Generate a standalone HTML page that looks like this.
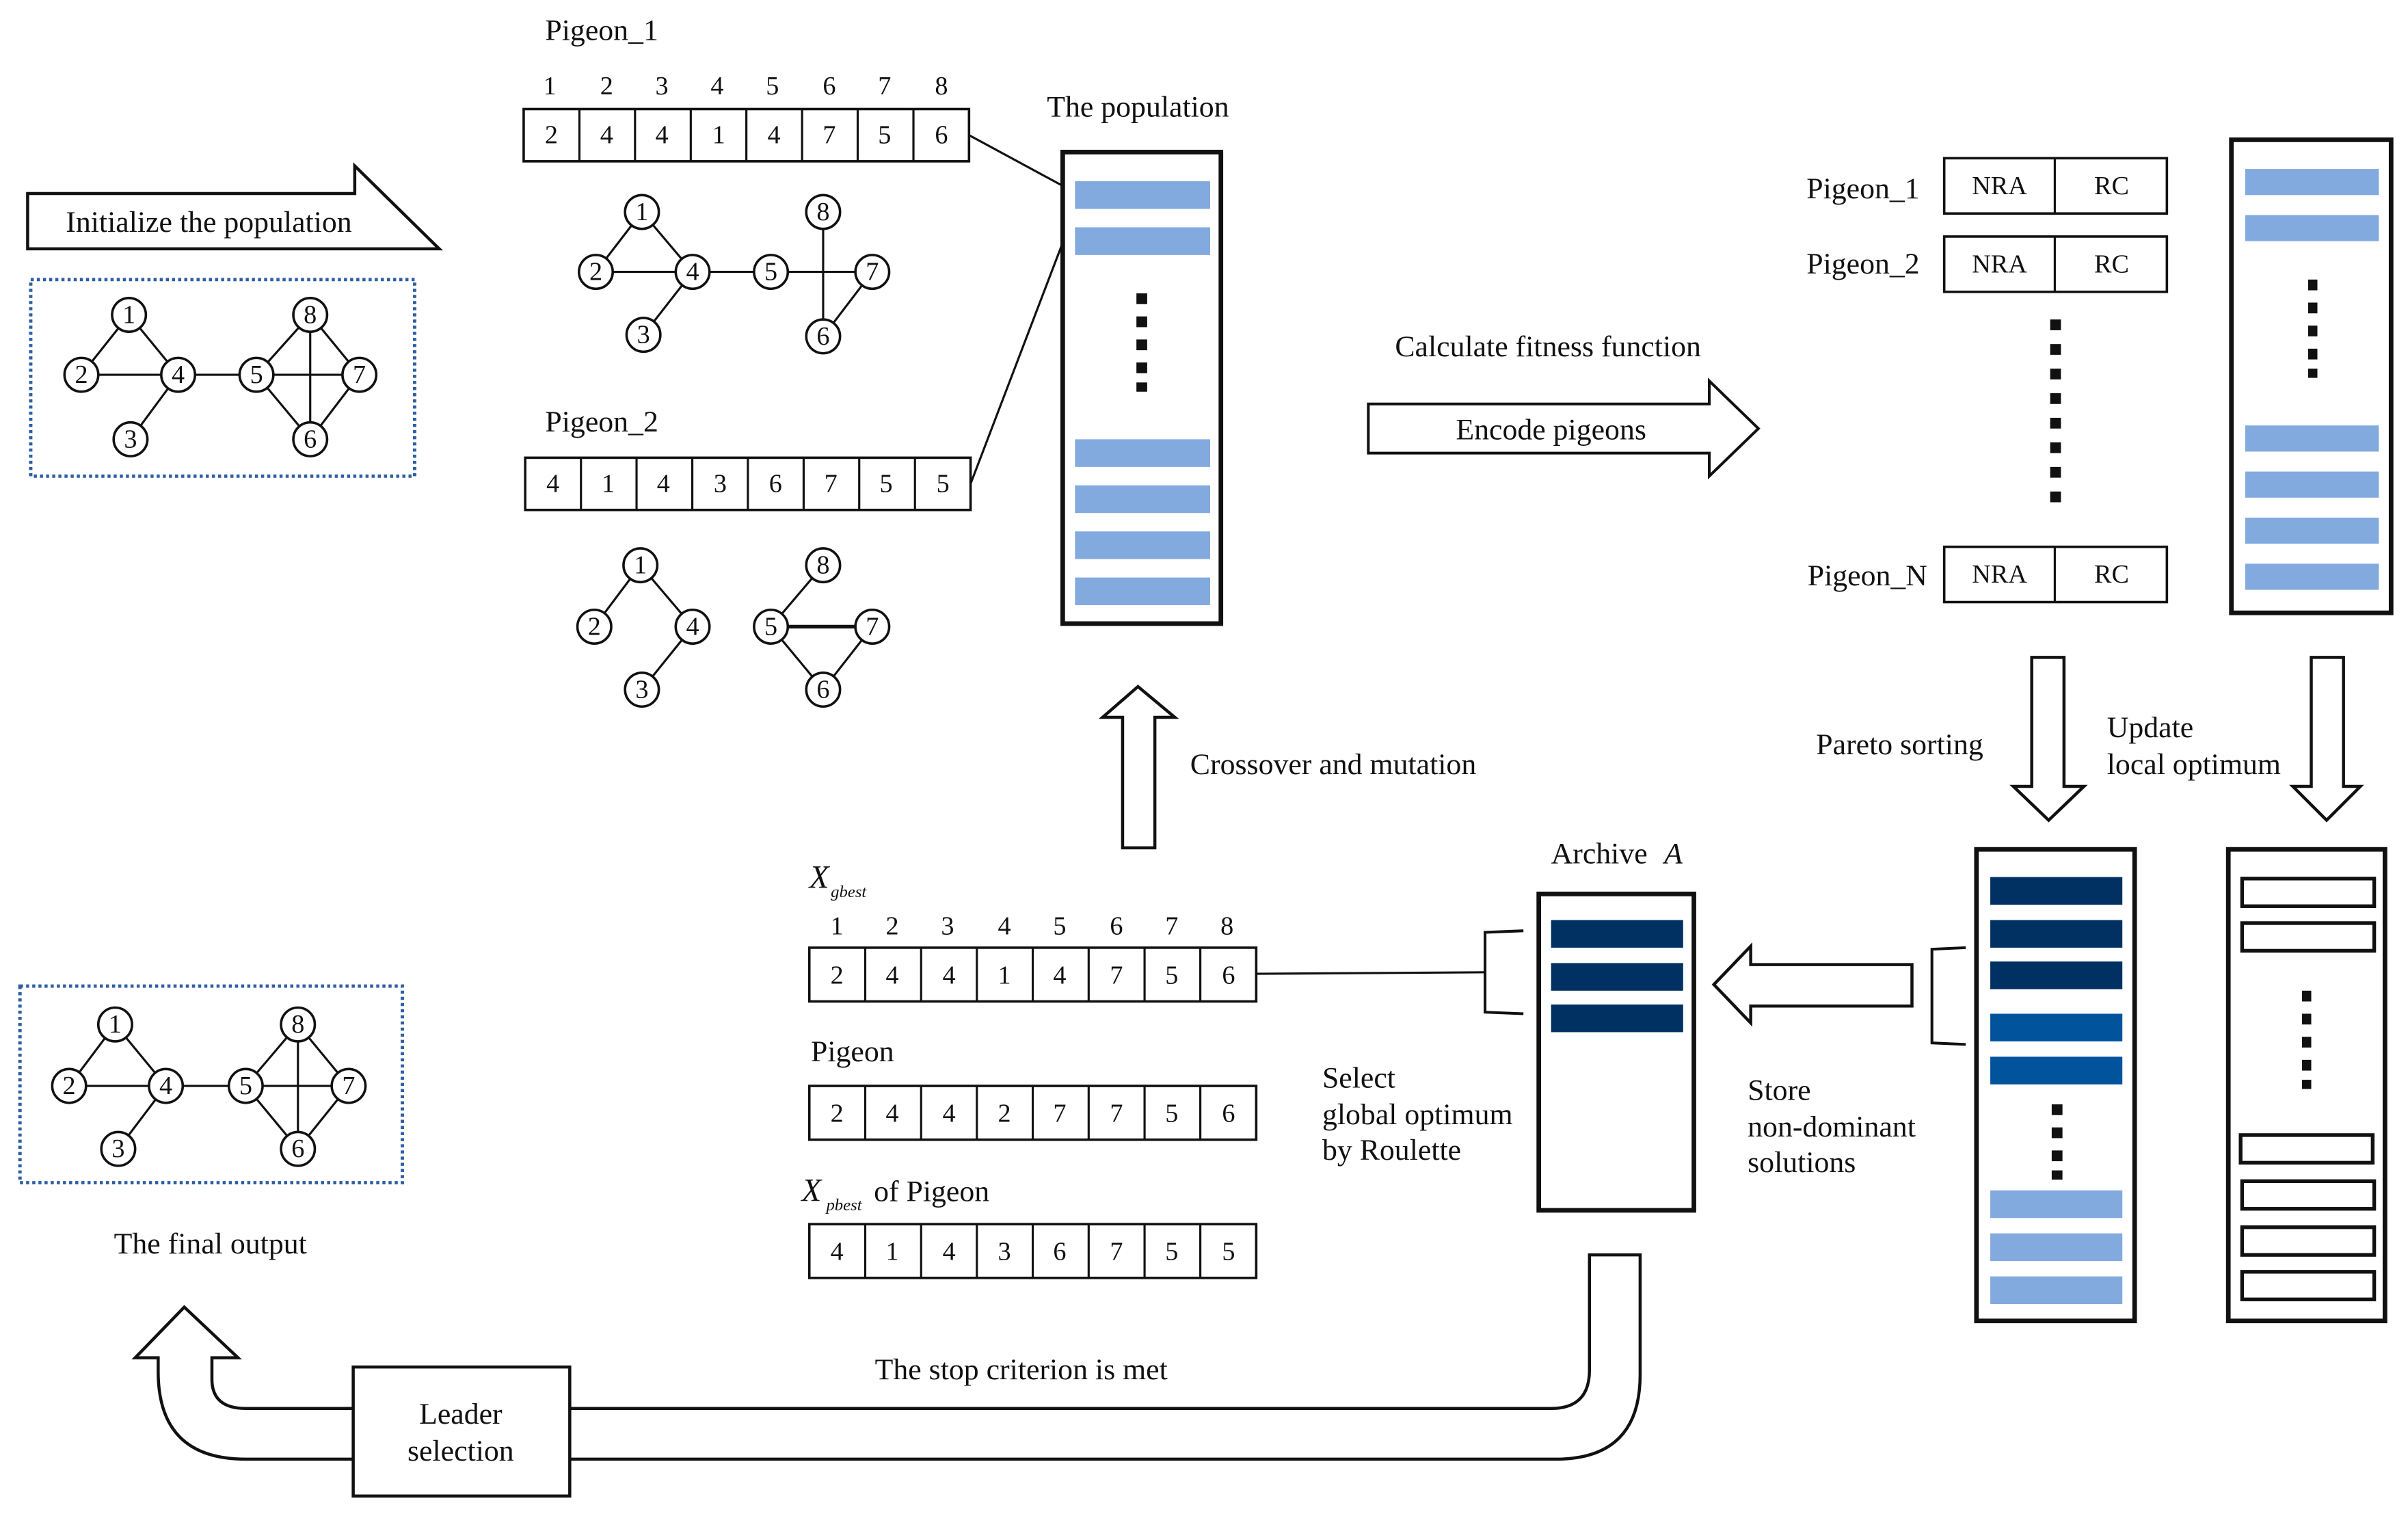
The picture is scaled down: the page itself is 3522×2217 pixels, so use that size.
<!DOCTYPE html>
<html><head><meta charset="utf-8"><style>
html,body{margin:0;padding:0;background:#fff;}
svg{display:block}
text{font-family:"Liberation Serif",serif;fill:#111;}
</style></head><body>
<svg width="3522" height="2217" viewBox="0 0 1568 987" xmlns="http://www.w3.org/2000/svg">
<defs>
<style>
.c{fill:#fff;stroke:#111;stroke-width:1.6}
.e{stroke:#111;stroke-width:1.4}
.n{font-size:17px;text-anchor:middle;dominant-baseline:central}
.t{font-size:19.5px}
.cell{fill:#fff;stroke:#111;stroke-width:1.6}
.lb{fill:#83aadf}
.nv{fill:#003163}
.md{fill:#01539c}
</style>
</defs>

<!-- Initialize arrow -->
<polygon points="18,126 231,126 231,108 286,162 18,162" fill="#fff" stroke="#111" stroke-width="2"/>
<text class="t" x="136" y="151" text-anchor="middle">Initialize the population</text>
<rect x="20" y="182" width="250" height="128" fill="none" stroke="#2e5fa3" stroke-width="2.2" stroke-dasharray="2,2"/>
<!-- graph 0 -->
<g>
<line class="e" x1="84" y1="205" x2="53" y2="244"/><line class="e" x1="84" y1="205" x2="116" y2="244"/>
<line class="e" x1="53" y1="244" x2="116" y2="244"/><line class="e" x1="116" y1="244" x2="85" y2="286"/>
<line class="e" x1="116" y1="244" x2="167" y2="244"/><line class="e" x1="167" y1="244" x2="202" y2="205"/>
<line class="e" x1="202" y1="205" x2="234" y2="244"/><line class="e" x1="167" y1="244" x2="234" y2="244"/>
<line class="e" x1="167" y1="244" x2="202" y2="286"/><line class="e" x1="202" y1="286" x2="234" y2="244"/>
<line class="e" x1="202" y1="205" x2="202" y2="286"/>
<circle class="c" cx="84" cy="205" r="11"/><text class="n" x="84" y="205">1</text>
<circle class="c" cx="53" cy="244" r="11"/><text class="n" x="53" y="244">2</text>
<circle class="c" cx="116" cy="244" r="11"/><text class="n" x="116" y="244">4</text>
<circle class="c" cx="85" cy="286" r="11"/><text class="n" x="85" y="286">3</text>
<circle class="c" cx="167" cy="244" r="11"/><text class="n" x="167" y="244">5</text>
<circle class="c" cx="202" cy="205" r="11"/><text class="n" x="202" y="205">8</text>
<circle class="c" cx="234" cy="244" r="11"/><text class="n" x="234" y="244">7</text>
<circle class="c" cx="202" cy="286" r="11"/><text class="n" x="202" y="286">6</text>
</g>

<!-- Pigeon_1 -->
<text class="t" x="355" y="26">Pigeon_1</text>
<text class="n" x="358" y="56">1</text><text class="n" x="395" y="56">2</text><text class="n" x="431" y="56">3</text><text class="n" x="467" y="56">4</text><text class="n" x="503" y="56">5</text><text class="n" x="540" y="56">6</text><text class="n" x="576" y="56">7</text><text class="n" x="613" y="56">8</text>
<rect class="cell" x="341" y="71" width="290" height="34"/>
<g class="e"><line x1="377.3" y1="71" x2="377.3" y2="105"/><line x1="413.5" y1="71" x2="413.5" y2="105"/><line x1="449.8" y1="71" x2="449.8" y2="105"/><line x1="486" y1="71" x2="486" y2="105"/><line x1="522.3" y1="71" x2="522.3" y2="105"/><line x1="558.5" y1="71" x2="558.5" y2="105"/><line x1="594.8" y1="71" x2="594.8" y2="105"/></g>
<text class="n" x="359" y="88">2</text><text class="n" x="395" y="88">4</text><text class="n" x="431" y="88">4</text><text class="n" x="468" y="88">1</text><text class="n" x="504" y="88">4</text><text class="n" x="540" y="88">7</text><text class="n" x="576" y="88">5</text><text class="n" x="613" y="88">6</text>

<!-- graph 1 -->
<line class="e" x1="418" y1="138" x2="388" y2="177"/><line class="e" x1="418" y1="138" x2="451" y2="177"/>
<line class="e" x1="388" y1="177" x2="451" y2="177"/><line class="e" x1="451" y1="177" x2="419" y2="218"/>
<line class="e" x1="451" y1="177" x2="568" y2="177"/><line class="e" x1="536" y1="138" x2="536" y2="219"/>
<line class="e" x1="568" y1="177" x2="536" y2="219"/>
<circle class="c" cx="418" cy="138" r="11"/><text class="n" x="418" y="138">1</text>
<circle class="c" cx="388" cy="177" r="11"/><text class="n" x="388" y="177">2</text>
<circle class="c" cx="451" cy="177" r="11"/><text class="n" x="451" y="177">4</text>
<circle class="c" cx="419" cy="218" r="11"/><text class="n" x="419" y="218">3</text>
<circle class="c" cx="502" cy="177" r="11"/><text class="n" x="502" y="177">5</text>
<circle class="c" cx="536" cy="138" r="11"/><text class="n" x="536" y="138">8</text>
<circle class="c" cx="568" cy="177" r="11"/><text class="n" x="568" y="177">7</text>
<circle class="c" cx="536" cy="219" r="11"/><text class="n" x="536" y="219">6</text>

<!-- Pigeon_2 -->
<text class="t" x="355" y="281">Pigeon_2</text>
<rect class="cell" x="342" y="298" width="290" height="34"/>
<g class="e"><line x1="378.3" y1="298" x2="378.3" y2="332"/><line x1="414.5" y1="298" x2="414.5" y2="332"/><line x1="450.8" y1="298" x2="450.8" y2="332"/><line x1="487" y1="298" x2="487" y2="332"/><line x1="523.3" y1="298" x2="523.3" y2="332"/><line x1="559.5" y1="298" x2="559.5" y2="332"/><line x1="595.8" y1="298" x2="595.8" y2="332"/></g>
<text class="n" x="360" y="315">4</text><text class="n" x="396" y="315">1</text><text class="n" x="432" y="315">4</text><text class="n" x="469" y="315">3</text><text class="n" x="505" y="315">6</text><text class="n" x="541" y="315">7</text><text class="n" x="577" y="315">5</text><text class="n" x="614" y="315">5</text>

<!-- graph 2 -->
<line class="e" x1="417" y1="368" x2="387" y2="408"/><line class="e" x1="417" y1="368" x2="451" y2="408"/>
<line class="e" x1="451" y1="408" x2="418" y2="449"/><line class="e" x1="536" y1="368" x2="502" y2="408"/>
<line x1="502" y1="408" x2="568" y2="408" stroke="#111" stroke-width="2.4"/><line class="e" x1="502" y1="408" x2="536" y2="449"/>
<line class="e" x1="568" y1="408" x2="536" y2="449"/>
<circle class="c" cx="417" cy="368" r="11"/><text class="n" x="417" y="368">1</text>
<circle class="c" cx="387" cy="408" r="11"/><text class="n" x="387" y="408">2</text>
<circle class="c" cx="451" cy="408" r="11"/><text class="n" x="451" y="408">4</text>
<circle class="c" cx="418" cy="449" r="11"/><text class="n" x="418" y="449">3</text>
<circle class="c" cx="502" cy="408" r="11"/><text class="n" x="502" y="408">5</text>
<circle class="c" cx="536" cy="368" r="11"/><text class="n" x="536" y="368">8</text>
<circle class="c" cx="568" cy="408" r="11"/><text class="n" x="568" y="408">7</text>
<circle class="c" cx="536" cy="449" r="11"/><text class="n" x="536" y="449">6</text>

<!-- population -->
<text class="t" x="741" y="76" text-anchor="middle">The population</text>
<line class="e" x1="631" y1="88" x2="692" y2="121"/>
<line class="e" x1="632" y1="315" x2="692" y2="158"/>
<rect x="692" y="99" width="103" height="307" fill="#fff" stroke="#111" stroke-width="3"/>
<rect class="lb" x="700" y="118" width="88" height="18"/><rect class="lb" x="700" y="148" width="88" height="18"/>
<g fill="#111"><rect x="740" y="191" width="7" height="7"/><rect x="740" y="206" width="7" height="7"/><rect x="740" y="221" width="7" height="7"/><rect x="740" y="236" width="7" height="7"/><rect x="740" y="249" width="7" height="6"/></g>
<rect class="lb" x="700" y="286" width="88" height="18"/><rect class="lb" x="700" y="316" width="88" height="18"/>
<rect class="lb" x="700" y="346" width="88" height="18"/><rect class="lb" x="700" y="376" width="88" height="18"/>

<!-- up arrow -->
<polygon points="731,552 752,552 752,467 765,467 741,447 718,467 731,467" fill="#fff" stroke="#111" stroke-width="2"/>
<text class="t" x="775" y="504">Crossover and mutation</text>

<!-- fitness arrow -->
<text class="t" x="1008" y="232" text-anchor="middle">Calculate fitness function</text>
<polygon points="891,263 1113,263 1113,248 1145,279 1113,310 1113,295 891,295" fill="#fff" stroke="#111" stroke-width="1.8"/>
<text class="t" x="1010" y="286" text-anchor="middle">Encode pigeons</text>

<!-- NRA RC -->
<text class="t" x="1250" y="129" text-anchor="end">Pigeon_1</text>
<rect class="cell" x="1266" y="103" width="145" height="36"/><line class="e" x1="1338" y1="103" x2="1338" y2="139"/>
<text class="n" x="1302" y="121">NRA</text><text class="n" x="1375" y="121">RC</text>
<text class="t" x="1250" y="178" text-anchor="end">Pigeon_2</text>
<rect class="cell" x="1266" y="154" width="145" height="36"/><line class="e" x1="1338" y1="154" x2="1338" y2="190"/>
<text class="n" x="1302" y="172">NRA</text><text class="n" x="1375" y="172">RC</text>
<g fill="#111"><rect x="1335" y="208" width="7" height="7"/><rect x="1335" y="224" width="7" height="7"/><rect x="1335" y="240" width="7" height="7"/><rect x="1335" y="256" width="7" height="7"/><rect x="1335" y="272" width="7" height="7"/><rect x="1335" y="288" width="7" height="7"/><rect x="1335" y="304" width="7" height="7"/><rect x="1335" y="320" width="7" height="7"/></g>
<text class="t" x="1255" y="381" text-anchor="end">Pigeon_N</text>
<rect class="cell" x="1266" y="356" width="145" height="36"/><line class="e" x1="1338" y1="356" x2="1338" y2="392"/>
<text class="n" x="1302" y="374">NRA</text><text class="n" x="1375" y="374">RC</text>

<!-- right column top -->
<rect x="1453" y="91" width="104" height="308" fill="#fff" stroke="#111" stroke-width="3"/>
<rect class="lb" x="1462" y="110" width="87" height="17"/><rect class="lb" x="1462" y="140" width="87" height="17"/>
<g fill="#111"><rect x="1503" y="182" width="6" height="7"/><rect x="1503" y="197" width="6" height="7"/><rect x="1503" y="212" width="6" height="7"/><rect x="1503" y="227" width="6" height="7"/><rect x="1503" y="240" width="6" height="6"/></g>
<rect class="lb" x="1462" y="277" width="87" height="17"/><rect class="lb" x="1462" y="307" width="87" height="17"/>
<rect class="lb" x="1462" y="337" width="87" height="17"/><rect class="lb" x="1462" y="367" width="87" height="17"/>

<!-- down arrows -->
<polygon points="1323,428 1344,428 1344,512 1357,512 1334,534 1311,512 1323,512" fill="#fff" stroke="#111" stroke-width="2"/>
<polygon points="1505,428 1526,428 1526,512 1537,512 1515,534 1493,512 1505,512" fill="#fff" stroke="#111" stroke-width="2"/>
<text class="t" x="1237" y="491" text-anchor="middle">Pareto sorting</text>
<text class="t" x="1372" y="480">Update</text>
<text class="t" x="1372" y="504">local optimum</text>

<!-- Pareto box -->
<rect x="1287" y="553" width="103" height="307" fill="#fff" stroke="#111" stroke-width="3"/>
<rect class="nv" x="1296" y="571" width="86" height="18"/><rect class="nv" x="1296" y="599" width="86" height="18"/><rect class="nv" x="1296" y="626" width="86" height="18"/>
<rect class="md" x="1296" y="660" width="86" height="18"/><rect class="md" x="1296" y="688" width="86" height="18"/>
<g fill="#111"><rect x="1336" y="719" width="7" height="7"/><rect x="1336" y="734" width="7" height="7"/><rect x="1336" y="749" width="7" height="7"/><rect x="1336" y="762" width="7" height="6"/></g>
<rect class="lb" x="1296" y="775" width="86" height="18"/><rect class="lb" x="1296" y="803" width="86" height="18"/><rect class="lb" x="1296" y="831" width="86" height="18"/>
<path d="M1280,617 L1258,618 L1258,679 L1280,680" fill="none" stroke="#111" stroke-width="1.8"/>

<!-- right empty box -->
<rect x="1451" y="553" width="102" height="307" fill="#fff" stroke="#111" stroke-width="3"/>
<g fill="none" stroke="#111" stroke-width="2.4">
<rect x="1460" y="572" width="86" height="18"/><rect x="1460" y="601" width="86" height="18"/>
<rect x="1459" y="739" width="86" height="18"/><rect x="1460" y="769" width="86" height="18"/><rect x="1460" y="799" width="86" height="18"/><rect x="1460" y="828" width="86" height="18"/>
</g>
<g fill="#111"><rect x="1499" y="645" width="6" height="7"/><rect x="1499" y="660" width="6" height="7"/><rect x="1499" y="675" width="6" height="7"/><rect x="1499" y="690" width="6" height="7"/><rect x="1499" y="703" width="6" height="6"/></g>

<!-- left arrow -->
<polygon points="1245,628 1245,655 1140,655 1140,666 1116,641 1140,616 1140,628" fill="#fff" stroke="#111" stroke-width="2"/>
<text class="t" x="1138" y="716">Store</text>
<text class="t" x="1138" y="740">non-dominant</text>
<text class="t" x="1138" y="763">solutions</text>

<!-- Archive -->
<text class="t" x="1010" y="562">Archive <tspan font-style="italic" dx="6">A</tspan></text>
<rect x="1002" y="582" width="101" height="206" fill="#fff" stroke="#111" stroke-width="3"/>
<rect class="nv" x="1010" y="599" width="86" height="18"/><rect class="nv" x="1010" y="627" width="86" height="18"/><rect class="nv" x="1010" y="654" width="86" height="18"/>
<path d="M992,606 L967,607 L967,659 L992,660" fill="none" stroke="#111" stroke-width="1.8"/>
<line class="e" x1="818" y1="634" x2="967" y2="633"/>
<text class="t" x="861" y="708">Select</text>
<text class="t" x="861" y="732">global optimum</text>
<text class="t" x="861" y="755">by Roulette</text>

<!-- X gbest -->
<text x="527" y="578" font-size="21" font-style="italic">X</text><text x="541" y="584" font-size="11" font-style="italic">gbest</text>
<text class="n" x="545" y="603">1</text><text class="n" x="581" y="603">2</text><text class="n" x="617" y="603">3</text><text class="n" x="654" y="603">4</text><text class="n" x="690" y="603">5</text><text class="n" x="727" y="603">6</text><text class="n" x="763" y="603">7</text><text class="n" x="799" y="603">8</text>
<rect class="cell" x="527" y="617" width="291" height="35"/>
<g class="e"><line x1="563.4" y1="617" x2="563.4" y2="652"/><line x1="599.8" y1="617" x2="599.8" y2="652"/><line x1="636.1" y1="617" x2="636.1" y2="652"/><line x1="672.5" y1="617" x2="672.5" y2="652"/><line x1="708.9" y1="617" x2="708.9" y2="652"/><line x1="745.3" y1="617" x2="745.3" y2="652"/><line x1="781.6" y1="617" x2="781.6" y2="652"/></g>
<text class="n" x="545" y="635">2</text><text class="n" x="581" y="635">4</text><text class="n" x="618" y="635">4</text><text class="n" x="654" y="635">1</text><text class="n" x="690" y="635">4</text><text class="n" x="727" y="635">7</text><text class="n" x="763" y="635">5</text><text class="n" x="800" y="635">6</text>

<text class="t" x="528" y="691">Pigeon</text>
<rect class="cell" x="527" y="707" width="291" height="35"/>
<g class="e"><line x1="563.4" y1="707" x2="563.4" y2="742"/><line x1="599.8" y1="707" x2="599.8" y2="742"/><line x1="636.1" y1="707" x2="636.1" y2="742"/><line x1="672.5" y1="707" x2="672.5" y2="742"/><line x1="708.9" y1="707" x2="708.9" y2="742"/><line x1="745.3" y1="707" x2="745.3" y2="742"/><line x1="781.6" y1="707" x2="781.6" y2="742"/></g>
<text class="n" x="545" y="725">2</text><text class="n" x="581" y="725">4</text><text class="n" x="618" y="725">4</text><text class="n" x="654" y="725">2</text><text class="n" x="690" y="725">7</text><text class="n" x="727" y="725">7</text><text class="n" x="763" y="725">5</text><text class="n" x="800" y="725">6</text>

<text x="522" y="782" font-size="21" font-style="italic">X</text><text x="538" y="788" font-size="11" font-style="italic">pbest</text><text class="t" x="569" y="782">of Pigeon</text>
<rect class="cell" x="527" y="797" width="291" height="35"/>
<g class="e"><line x1="563.4" y1="797" x2="563.4" y2="832"/><line x1="599.8" y1="797" x2="599.8" y2="832"/><line x1="636.1" y1="797" x2="636.1" y2="832"/><line x1="672.5" y1="797" x2="672.5" y2="832"/><line x1="708.9" y1="797" x2="708.9" y2="832"/><line x1="745.3" y1="797" x2="745.3" y2="832"/><line x1="781.6" y1="797" x2="781.6" y2="832"/></g>
<text class="n" x="545" y="815">4</text><text class="n" x="581" y="815">1</text><text class="n" x="618" y="815">4</text><text class="n" x="654" y="815">3</text><text class="n" x="690" y="815">6</text><text class="n" x="727" y="815">7</text><text class="n" x="763" y="815">5</text><text class="n" x="800" y="815">5</text>

<!-- final output -->
<rect x="13" y="642" width="249" height="128" fill="none" stroke="#2e5fa3" stroke-width="2.2" stroke-dasharray="2,2"/>
<line class="e" x1="75" y1="667" x2="45" y2="707"/><line class="e" x1="75" y1="667" x2="108" y2="707"/>
<line class="e" x1="45" y1="707" x2="108" y2="707"/><line class="e" x1="108" y1="707" x2="77" y2="748"/>
<line class="e" x1="108" y1="707" x2="160" y2="707"/><line class="e" x1="160" y1="707" x2="194" y2="667"/>
<line class="e" x1="194" y1="667" x2="227" y2="707"/><line class="e" x1="160" y1="707" x2="227" y2="707"/>
<line class="e" x1="160" y1="707" x2="194" y2="748"/><line class="e" x1="194" y1="748" x2="227" y2="707"/>
<line class="e" x1="194" y1="667" x2="194" y2="748"/>
<circle class="c" cx="75" cy="667" r="11"/><text class="n" x="75" y="667">1</text>
<circle class="c" cx="45" cy="707" r="11"/><text class="n" x="45" y="707">2</text>
<circle class="c" cx="108" cy="707" r="11"/><text class="n" x="108" y="707">4</text>
<circle class="c" cx="77" cy="748" r="11"/><text class="n" x="77" y="748">3</text>
<circle class="c" cx="160" cy="707" r="11"/><text class="n" x="160" y="707">5</text>
<circle class="c" cx="194" cy="667" r="11"/><text class="n" x="194" y="667">8</text>
<circle class="c" cx="227" cy="707" r="11"/><text class="n" x="227" y="707">7</text>
<circle class="c" cx="194" cy="748" r="11"/><text class="n" x="194" y="748">6</text>
<text class="t" x="137" y="816" text-anchor="middle">The final output</text>

<!-- U arrow -->
<path d="M1035,817 L1068,817 L1068,895 Q1068,950 1013,950 L160,950 Q103,950 103,893 L103,884 L88,884 L120,851 L155,884 L138,884 L138,898 Q138,917 160,917 L1010,917 Q1035,917 1035,892 Z" fill="#fff" stroke="#111" stroke-width="2"/>
<text class="t" x="665" y="898" text-anchor="middle">The stop criterion is met</text>
<rect x="230" y="890" width="141" height="84" fill="#fff" stroke="#111" stroke-width="2"/>
<text class="t" x="300" y="927" text-anchor="middle">Leader</text>
<text class="t" x="300" y="951" text-anchor="middle">selection</text>
</svg>
</body></html>
